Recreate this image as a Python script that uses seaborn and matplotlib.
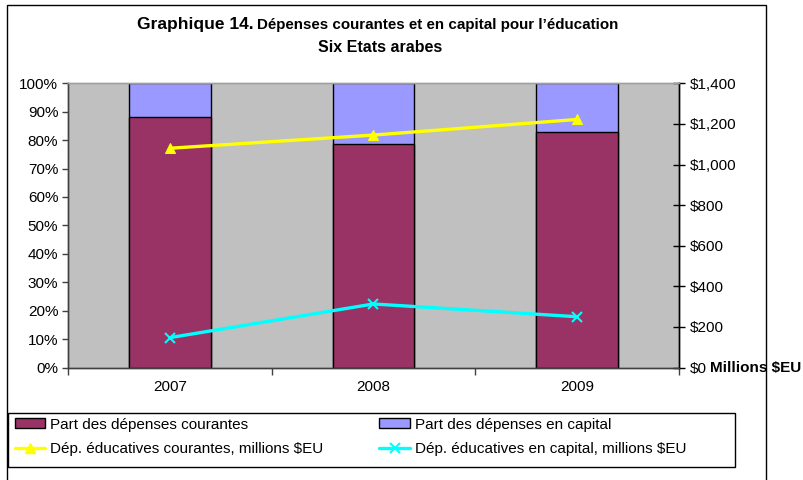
import numpy as np
import matplotlib
matplotlib.use("Agg")
import matplotlib.pyplot as plt
import seaborn as sns
from matplotlib.patches import Rectangle, Patch
from matplotlib.lines import Line2D
from matplotlib.ticker import FuncFormatter, MultipleLocator

annees = ["2007", "2008", "2009"]
part_courantes = [88.1, 78.6, 83.0]
part_capital = [11.9, 21.4, 17.0]
dep_courantes = [1080, 1145, 1222]
dep_capital = [147, 313, 250]

COL_COUR = "#993366"
COL_CAP = "#9999FF"
COL_JAUNE = "#FFFF00"
COL_CYAN = "#00FFFF"
FS = 11

sns.set_theme(style="white")
plt.rcParams["font.family"] = ["Liberation Sans", "DejaVu Sans"]
plt.rcParams["text.color"] = "black"

fig = plt.figure(figsize=(8.04, 4.8), dpi=100)
W, H = 804, 480
ax = fig.add_axes([68 / W, 1 - 367.5 / H, (679 - 68) / W, (367.5 - 83.3) / H])
ax.set_facecolor("#C0C0C0")

# barres empilées : total (capital visible en haut) puis part courante
totaux = [a + b for a, b in zip(part_courantes, part_capital)]
sns.barplot(x=annees, y=totaux, color=COL_CAP, saturation=1, width=0.4,
            edgecolor="black", linewidth=1, ax=ax, errorbar=None)
sns.barplot(x=annees, y=part_courantes, color=COL_COUR, saturation=1, width=0.4,
            edgecolor="black", linewidth=1, ax=ax, errorbar=None)

ax.set_xlim(-0.5, len(annees) - 0.5)
ax.set_ylim(0, 100)
ax.yaxis.set_major_locator(MultipleLocator(10))
ax.yaxis.set_major_formatter(FuncFormatter(lambda v, p: f"{v:.0f}%"))
ax.set_xlabel("")
ax.set_ylabel("")
ax.tick_params(axis="y", direction="out", length=4, width=1, color="#404040",
               labelsize=FS, pad=3, labelcolor="black", left=True)
ax.tick_params(axis="x", which="major", length=0, pad=9, labelsize=FS, labelcolor="black")
ax.set_xticks(np.arange(len(annees) + 1) - 0.5, minor=True)
ax.tick_params(axis="x", which="minor", direction="out", length=5, width=1,
               color="#404040", bottom=True)

ax2 = ax.twinx()
x_pos = np.arange(len(annees))
sns.lineplot(x=x_pos, y=dep_courantes, color=COL_JAUNE, linewidth=2.4,
             marker="^", markersize=7, markeredgecolor=COL_JAUNE, ax=ax2)
sns.lineplot(x=x_pos, y=dep_capital, color=COL_CYAN, linewidth=2.4,
             marker="x", markersize=7, markeredgewidth=1.5,
             markeredgecolor=COL_CYAN, ax=ax2)
ax2.set_ylim(0, 1400)
ax2.set_xlim(-0.5, len(annees) - 0.5)
ax2.yaxis.set_major_locator(MultipleLocator(200))
ax2.yaxis.set_major_formatter(FuncFormatter(lambda v, p: f"${v:,.0f}"))
ax2.tick_params(axis="y", direction="inout", length=8, width=1, color="black",
                labelsize=FS, pad=4, right=True, labelcolor="black")
ax2.grid(False)
ax.grid(False)

for a in (ax, ax2):
    a.spines["top"].set_color("#A0A0A0")
    a.spines["left"].set_color("#404040")
    a.spines["bottom"].set_color("#404040")
    a.spines["right"].set_color("black")
    for s in a.spines.values():
        s.set_linewidth(1)

fig.text(710 / W, 1 - 368 / H, "Millions $EU", fontsize=FS, fontweight="bold",
         ha="left", va="center")

fig.text(254 / W, 1 - 29 / H, "Graphique 14.", fontsize=12.5, fontweight="bold",
         ha="right", va="baseline")
fig.text(257 / W, 1 - 29 / H, "Dépenses courantes et en capital pour l’éducation",
         fontsize=10.9, fontweight="bold", ha="left", va="baseline")
fig.text(380 / W, 1 - 47 / H, "Six Etats arabes", fontsize=11.5, fontweight="bold",
         ha="center", va="center")

fig.add_artist(Rectangle((7 / W, -0.05), (766 - 7) / W, 1.05 - 5 / H,
                         transform=fig.transFigure, fill=False,
                         edgecolor="black", linewidth=1, clip_on=False))
# cadre de la légende
fig.add_artist(Rectangle((8 / W, 1 - 467 / H), (735 - 8) / W, 54 / H,
                         transform=fig.transFigure, fill=False,
                         edgecolor="black", linewidth=1, clip_on=False))

handles = [
    Patch(facecolor=COL_COUR, edgecolor="black", linewidth=1),
    Line2D([], [], color=COL_JAUNE, linewidth=2.4, marker="^", markersize=7),
    Patch(facecolor=COL_CAP, edgecolor="black", linewidth=1),
    Line2D([], [], color=COL_CYAN, linewidth=2.4, marker="x", markersize=7,
           markeredgewidth=1.5),
]
labels = [
    "Part des dépenses courantes",
    "Dép. éducatives courantes, millions $EU",
    "Part des dépenses en capital",
    "Dép. éducatives en capital, millions $EU",
]
leg = fig.legend(handles, labels, ncol=2, loc="upper left",
                 bbox_to_anchor=(10 / W, 1 - 413 / H),
                 frameon=False, fontsize=FS, handlelength=2.0,
                 handleheight=0.6, handletextpad=0.3, borderaxespad=0,
                 labelspacing=0.68, borderpad=0.3, columnspacing=3.7)

fig.savefig("out.png", dpi=100)
